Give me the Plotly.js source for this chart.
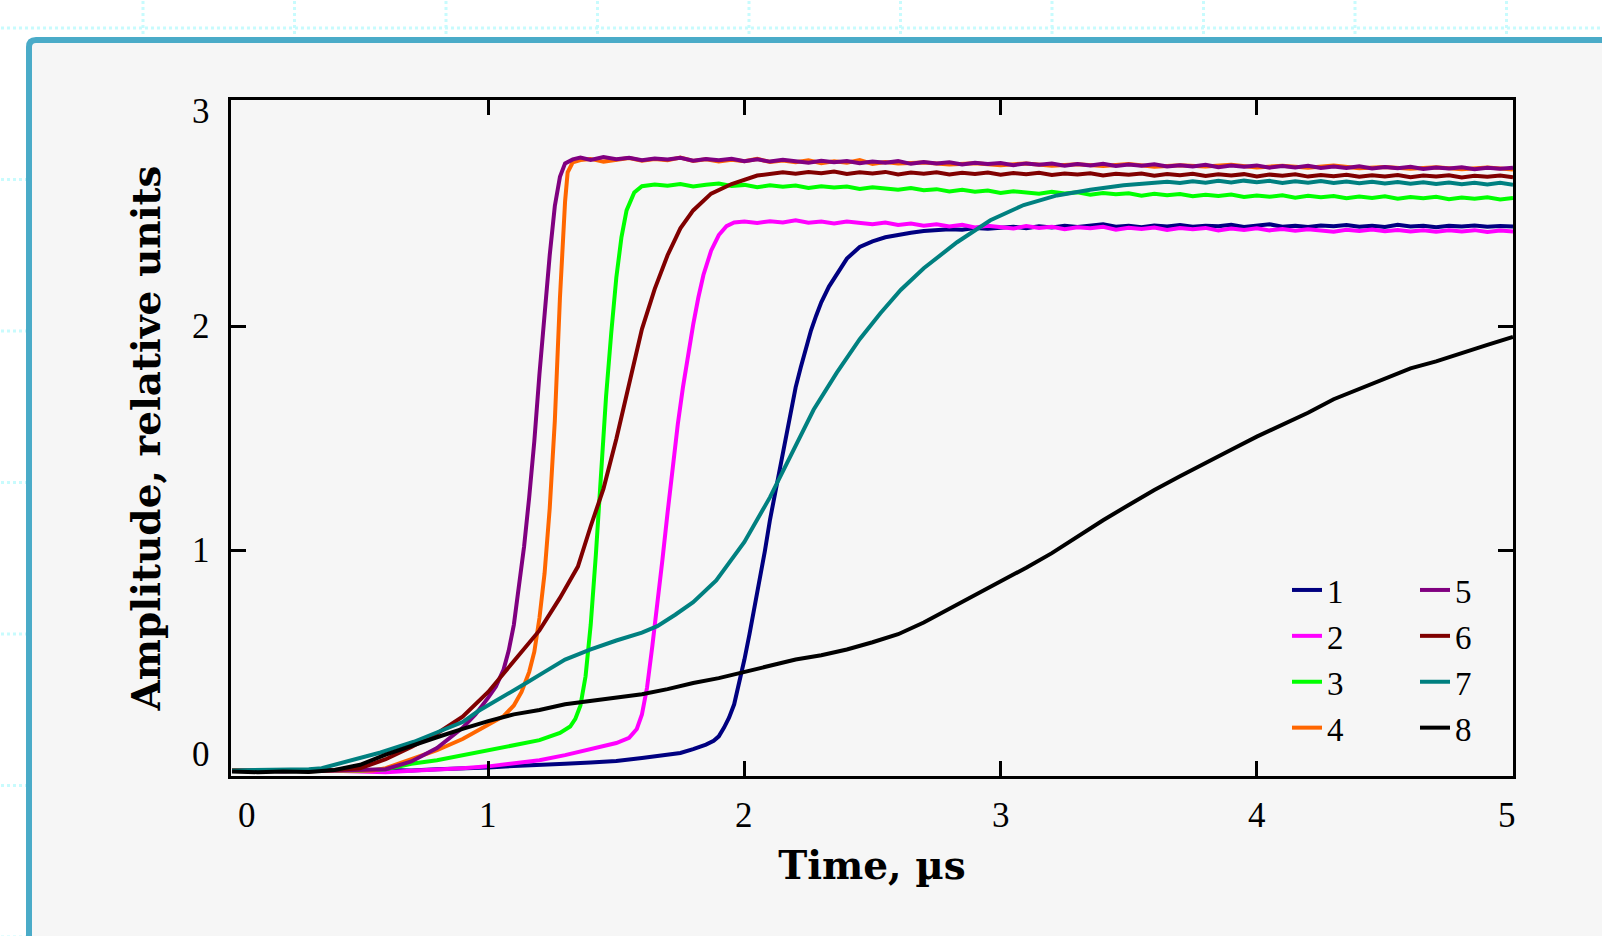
<!DOCTYPE html>
<html>
<head>
<meta charset="utf-8">
<script src="https://cdn.plot.ly/plotly-3.0.1.min.js"></script>
<style>
html,body{margin:0;padding:0;background:#ffffff;overflow:hidden}
#chart{width:1602px;height:936px}
</style>
</head>
<body>
<div id="chart"></div>
<script>
// ---------- data (time in µs, amplitude in relative units) ----------
const seriesNames = ['1','2','3','4','5','6','7','8'];
const seriesColors = ['#000080','#ff00ff','#00ff00','#ff6600','#800080','#800000','#008080','#000000'];

const s1 = [[0,0.020],[0.1,0.015],[0.2,0.022],[0.3,0.018],[0.4,0.020],[0.5,0.017],[0.6,0.022],[0.7,0.020],[0.8,0.025],[0.9,0.027],[1.0,0.033],[1.1,0.040],[1.2,0.043],[1.3,0.050],[1.4,0.055],[1.5,0.062],[1.6,0.075],[1.7,0.088],[1.75,0.098],[1.8,0.115],[1.85,0.135],[1.88,0.152],[1.9,0.172],[1.92,0.210],[1.94,0.255],[1.96,0.315],[1.98,0.410],[2.0,0.515],[2.02,0.630],[2.04,0.750],[2.06,0.865],[2.08,1.000],[2.1,1.140],[2.12,1.260],[2.14,1.375],[2.16,1.500],[2.18,1.625],[2.2,1.730],[2.22,1.820],[2.24,1.905],[2.26,1.985],[2.28,2.050],[2.3,2.110],[2.33,2.180],[2.36,2.235],[2.4,2.305],[2.45,2.357],[2.5,2.382],[2.55,2.400],[2.6,2.412],[2.65,2.420],[2.7,2.428],[2.75,2.432],[2.8,2.436],[2.85,2.434],[2.9,2.441],[2.95,2.438],[3.0,2.443],[3.05,2.447],[3.1,2.441],[3.15,2.449],[3.2,2.444],[3.25,2.452],[3.3,2.446],[3.35,2.450],[3.4,2.458],[3.45,2.447],[3.5,2.451],[3.55,2.445],[3.6,2.453],[3.65,2.448],[3.7,2.455],[3.75,2.447],[3.8,2.452],[3.85,2.449],[3.9,2.456],[3.95,2.446],[4.0,2.451],[4.05,2.458],[4.1,2.447],[4.15,2.452],[4.2,2.446],[4.25,2.453],[4.3,2.449],[4.35,2.455],[4.4,2.447],[4.45,2.451],[4.5,2.446],[4.55,2.456],[4.6,2.448],[4.65,2.452],[4.7,2.445],[4.75,2.451],[4.8,2.448],[4.85,2.453],[4.9,2.447],[4.95,2.450],[5.0,2.448]];

const s2 = [[0,0.018],[0.1,0.020],[0.2,0.016],[0.3,0.020],[0.4,0.018],[0.5,0.014],[0.6,0.012],[0.7,0.018],[0.8,0.022],[0.9,0.030],[1.0,0.038],[1.1,0.050],[1.2,0.065],[1.3,0.088],[1.4,0.115],[1.5,0.142],[1.55,0.165],[1.58,0.205],[1.6,0.270],[1.62,0.390],[1.64,0.570],[1.66,0.755],[1.68,0.960],[1.7,1.170],[1.72,1.380],[1.74,1.565],[1.76,1.730],[1.78,1.880],[1.8,2.010],[1.82,2.130],[1.84,2.232],[1.87,2.340],[1.9,2.410],[1.93,2.450],[1.96,2.466],[2.0,2.470],[2.05,2.464],[2.1,2.472],[2.15,2.466],[2.2,2.476],[2.25,2.465],[2.3,2.470],[2.35,2.462],[2.4,2.471],[2.45,2.464],[2.5,2.458],[2.55,2.466],[2.6,2.455],[2.65,2.462],[2.7,2.452],[2.75,2.458],[2.8,2.448],[2.85,2.456],[2.9,2.444],[2.95,2.452],[3.0,2.446],[3.05,2.439],[3.1,2.450],[3.15,2.442],[3.2,2.447],[3.25,2.436],[3.3,2.445],[3.35,2.440],[3.4,2.447],[3.45,2.434],[3.5,2.443],[3.55,2.437],[3.6,2.444],[3.65,2.433],[3.7,2.441],[3.75,2.436],[3.8,2.442],[3.85,2.430],[3.9,2.439],[3.95,2.433],[4.0,2.440],[4.05,2.431],[4.1,2.437],[4.15,2.429],[4.2,2.436],[4.25,2.431],[4.3,2.425],[4.35,2.434],[4.4,2.428],[4.45,2.435],[4.5,2.427],[4.55,2.433],[4.6,2.426],[4.65,2.432],[4.7,2.425],[4.75,2.431],[4.8,2.426],[4.85,2.432],[4.9,2.424],[4.95,2.430],[5.0,2.426]];

const s3 = [[0,0.020],[0.1,0.018],[0.2,0.022],[0.3,0.019],[0.4,0.021],[0.5,0.018],[0.6,0.025],[0.7,0.050],[0.8,0.065],[0.9,0.088],[1.0,0.110],[1.1,0.132],[1.2,0.155],[1.28,0.187],[1.32,0.216],[1.34,0.250],[1.36,0.310],[1.38,0.440],[1.4,0.670],[1.42,0.980],[1.44,1.340],[1.46,1.690],[1.48,1.970],[1.5,2.220],[1.52,2.400],[1.54,2.520],[1.57,2.600],[1.6,2.628],[1.65,2.636],[1.7,2.630],[1.75,2.638],[1.8,2.627],[1.85,2.635],[1.9,2.640],[1.95,2.629],[2.0,2.634],[2.05,2.624],[2.1,2.632],[2.15,2.626],[2.2,2.631],[2.25,2.620],[2.3,2.628],[2.35,2.622],[2.4,2.627],[2.45,2.616],[2.5,2.623],[2.55,2.618],[2.6,2.612],[2.65,2.620],[2.7,2.610],[2.75,2.615],[2.8,2.605],[2.85,2.612],[2.9,2.603],[2.95,2.609],[3.0,2.598],[3.05,2.606],[3.1,2.600],[3.15,2.594],[3.2,2.603],[3.25,2.596],[3.3,2.601],[3.35,2.590],[3.4,2.598],[3.45,2.592],[3.5,2.597],[3.55,2.586],[3.6,2.594],[3.65,2.588],[3.7,2.593],[3.75,2.583],[3.8,2.590],[3.85,2.585],[3.9,2.591],[3.95,2.580],[4.0,2.587],[4.05,2.581],[4.1,2.588],[4.15,2.577],[4.2,2.585],[4.25,2.579],[4.3,2.584],[4.35,2.574],[4.4,2.582],[4.45,2.576],[4.5,2.583],[4.55,2.572],[4.6,2.580],[4.65,2.574],[4.7,2.581],[4.75,2.570],[4.8,2.578],[4.85,2.572],[4.9,2.579],[4.95,2.569],[5.0,2.576]];

const s4 = [[0,0.022],[0.1,0.018],[0.2,0.020],[0.3,0.016],[0.4,0.020],[0.5,0.018],[0.55,0.020],[0.6,0.030],[0.7,0.068],[0.8,0.110],[0.9,0.160],[1.0,0.226],[1.06,0.262],[1.1,0.310],[1.13,0.370],[1.16,0.460],[1.18,0.550],[1.2,0.700],[1.22,0.900],[1.24,1.190],[1.26,1.580],[1.28,2.130],[1.29,2.380],[1.3,2.560],[1.31,2.690],[1.33,2.735],[1.36,2.745],[1.4,2.750],[1.45,2.738],[1.5,2.746],[1.55,2.754],[1.6,2.742],[1.65,2.750],[1.7,2.744],[1.75,2.756],[1.8,2.741],[1.85,2.748],[1.9,2.738],[1.95,2.746],[2.0,2.740],[2.05,2.750],[2.1,2.736],[2.15,2.743],[2.2,2.735],[2.25,2.744],[2.3,2.731],[2.35,2.739],[2.4,2.733],[2.45,2.745],[2.5,2.728],[2.55,2.736],[2.6,2.730],[2.7,2.734],[2.8,2.725],[2.9,2.731],[3.0,2.722],[3.1,2.730],[3.2,2.720],[3.3,2.726],[3.4,2.718],[3.5,2.727],[3.6,2.715],[3.7,2.722],[3.8,2.716],[3.9,2.724],[4.0,2.712],[4.1,2.719],[4.2,2.711],[4.3,2.720],[4.4,2.708],[4.5,2.714],[4.6,2.706],[4.7,2.713],[4.8,2.704],[4.9,2.712],[5.0,2.703]];

const s5 = [[0,0.018],[0.1,0.020],[0.2,0.017],[0.3,0.021],[0.4,0.019],[0.5,0.020],[0.6,0.025],[0.7,0.060],[0.8,0.120],[0.9,0.210],[0.95,0.270],[1.0,0.345],[1.03,0.395],[1.06,0.470],[1.08,0.555],[1.1,0.670],[1.12,0.830],[1.14,1.020],[1.16,1.240],[1.18,1.490],[1.2,1.790],[1.22,2.070],[1.24,2.320],[1.26,2.540],[1.28,2.670],[1.3,2.730],[1.33,2.748],[1.36,2.756],[1.4,2.745],[1.45,2.758],[1.5,2.749],[1.55,2.755],[1.6,2.744],[1.65,2.752],[1.7,2.747],[1.75,2.755],[1.8,2.742],[1.85,2.750],[1.9,2.744],[1.95,2.751],[2.0,2.740],[2.05,2.748],[2.1,2.738],[2.15,2.746],[2.2,2.740],[2.25,2.733],[2.3,2.742],[2.35,2.735],[2.4,2.741],[2.45,2.731],[2.5,2.738],[2.55,2.733],[2.6,2.740],[2.65,2.728],[2.7,2.736],[2.75,2.730],[2.8,2.735],[2.85,2.725],[2.9,2.733],[2.95,2.727],[3.0,2.732],[3.05,2.722],[3.1,2.730],[3.15,2.724],[3.2,2.729],[3.25,2.720],[3.3,2.727],[3.35,2.721],[3.4,2.728],[3.45,2.718],[3.5,2.725],[3.55,2.719],[3.6,2.726],[3.65,2.716],[3.7,2.722],[3.75,2.716],[3.8,2.724],[3.85,2.713],[3.9,2.720],[3.95,2.715],[4.0,2.721],[4.05,2.711],[4.1,2.718],[4.15,2.712],[4.2,2.719],[4.25,2.709],[4.3,2.716],[4.35,2.710],[4.4,2.717],[4.45,2.707],[4.5,2.714],[4.55,2.708],[4.6,2.715],[4.65,2.705],[4.7,2.712],[4.75,2.707],[4.8,2.713],[4.85,2.704],[4.9,2.711],[4.95,2.706],[5.0,2.710]];

const s6 = [[0,0.020],[0.1,0.017],[0.2,0.020],[0.3,0.018],[0.4,0.022],[0.5,0.030],[0.6,0.070],[0.7,0.125],[0.8,0.185],[0.9,0.260],[1.0,0.370],[1.1,0.510],[1.2,0.645],[1.28,0.790],[1.35,0.930],[1.4,1.110],[1.45,1.278],[1.5,1.500],[1.55,1.745],[1.6,1.990],[1.65,2.170],[1.7,2.320],[1.75,2.440],[1.8,2.520],[1.87,2.595],[1.95,2.638],[2.05,2.676],[2.1,2.682],[2.15,2.690],[2.2,2.684],[2.25,2.692],[2.3,2.686],[2.35,2.694],[2.4,2.683],[2.45,2.690],[2.5,2.685],[2.55,2.692],[2.6,2.681],[2.65,2.689],[2.7,2.684],[2.75,2.690],[2.8,2.680],[2.85,2.688],[2.9,2.683],[2.95,2.689],[3.0,2.679],[3.05,2.687],[3.1,2.681],[3.15,2.688],[3.2,2.678],[3.25,2.685],[3.3,2.680],[3.35,2.686],[3.4,2.676],[3.45,2.684],[3.5,2.679],[3.55,2.685],[3.6,2.675],[3.65,2.683],[3.7,2.677],[3.75,2.684],[3.8,2.674],[3.85,2.681],[3.9,2.676],[3.95,2.682],[4.0,2.672],[4.05,2.680],[4.1,2.675],[4.15,2.681],[4.2,2.671],[4.25,2.678],[4.3,2.673],[4.35,2.679],[4.4,2.670],[4.45,2.677],[4.5,2.672],[4.55,2.678],[4.6,2.668],[4.65,2.676],[4.7,2.671],[4.75,2.677],[4.8,2.667],[4.85,2.675],[4.9,2.670],[4.95,2.676],[5.0,2.668]];

const s7 = [[0,0.020],[0.1,0.022],[0.2,0.020],[0.3,0.025],[0.35,0.030],[0.45,0.060],[0.58,0.100],[0.71,0.148],[0.84,0.206],[0.9,0.236],[0.96,0.284],[1.02,0.323],[1.09,0.372],[1.15,0.411],[1.22,0.460],[1.3,0.515],[1.4,0.560],[1.5,0.600],[1.6,0.635],[1.66,0.664],[1.73,0.715],[1.8,0.771],[1.89,0.868],[2.0,1.040],[2.1,1.240],[2.19,1.450],[2.27,1.630],[2.36,1.795],[2.45,1.945],[2.53,2.060],[2.61,2.165],[2.7,2.262],[2.83,2.378],[2.96,2.476],[3.09,2.544],[3.22,2.587],[3.35,2.612],[3.48,2.632],[3.61,2.641],[3.65,2.648],[3.7,2.642],[3.75,2.650],[3.8,2.644],[3.85,2.652],[3.9,2.645],[3.95,2.653],[4.0,2.646],[4.05,2.652],[4.1,2.643],[4.15,2.650],[4.2,2.644],[4.25,2.651],[4.3,2.642],[4.35,2.649],[4.4,2.641],[4.45,2.648],[4.5,2.640],[4.55,2.647],[4.6,2.639],[4.65,2.646],[4.7,2.638],[4.75,2.645],[4.8,2.637],[4.85,2.644],[4.9,2.636],[4.95,2.643],[5.0,2.635]];

const s8 = [[0,0.015],[0.1,0.012],[0.2,0.015],[0.3,0.013],[0.4,0.022],[0.5,0.045],[0.6,0.090],[0.7,0.130],[0.8,0.168],[0.9,0.205],[1.0,0.240],[1.1,0.270],[1.2,0.290],[1.3,0.315],[1.4,0.330],[1.5,0.345],[1.6,0.360],[1.7,0.383],[1.8,0.410],[1.9,0.432],[2.0,0.460],[2.1,0.486],[2.2,0.515],[2.3,0.534],[2.4,0.560],[2.5,0.592],[2.6,0.628],[2.7,0.680],[2.8,0.740],[2.9,0.800],[3.0,0.860],[3.1,0.925],[3.2,0.990],[3.3,1.065],[3.4,1.137],[3.5,1.205],[3.6,1.272],[3.7,1.333],[3.8,1.390],[3.9,1.452],[4.0,1.510],[4.1,1.565],[4.2,1.617],[4.3,1.677],[4.4,1.722],[4.5,1.770],[4.6,1.815],[4.7,1.846],[4.8,1.884],[4.9,1.920],[5.0,1.955]];

const seriesData = [s1,s2,s3,s4,s5,s6,s7,s8];

const xTickVals = [0,1,2,3,4,5];
const xTickText = ['0','1','2','3','4','5'];
const yTickVals = [0,1,2,3];
const yTickText = ['0','1','2','3'];
const xTitle = 'Time, µs';
const yTitle = 'Amplitude, relative units';

// ---------- geometry ----------
const W = 1602, H = 936, ML = 231, MR = 89, MT = 100, MB = 160;
const PW = W - ML - MR, PH = H - MT - MB;
const px2x = p => (p - ML) / PW;
const py2y = p => (H - MB - p) / PH;

const tickFont = {family: 'Liberation Serif, serif', size: 35, color: '#000'};
const titleFont = {family: 'DejaVu Serif, serif', size: 39, color: '#000', weight: 'bold'};

// ---------- traces ----------
const traces = seriesData.map((s, i) => ({
  type: 'scatter',
  mode: 'lines',
  name: seriesNames[i],
  x: s.map(p => p[0]),
  y: s.map(p => p[1]),
  line: {color: seriesColors[i], width: 4},
  legend: i < 4 ? 'legend' : 'legend2',
  hoverinfo: 'skip'
}));

// ---------- decorative background: dotted page grid + card ----------
const shapes = [];
const gridColor = '#c8fbfd';
for (let k = 0; k < 10; k++) {
  const gx = 143 + 151.5 * k;
  shapes.push({type: 'line', xref: 'paper', yref: 'paper', layer: 'below',
    x0: px2x(gx), x1: px2x(gx), y0: py2y(-5), y1: py2y(H + 5),
    line: {color: gridColor, width: 3, dash: 'dot'}});
}
for (let k = 0; k < 7; k++) {
  const gy = 28 + 151.5 * k;
  shapes.push({type: 'line', xref: 'paper', yref: 'paper', layer: 'below',
    x0: px2x(-5), x1: px2x(W + 5), y0: py2y(gy), y1: py2y(gy),
    line: {color: gridColor, width: 3, dash: 'dot'}});
}
const cl = 29, ct = 40, r = 7;
const cardPath = 'M' + px2x(cl) + ',' + py2y(H + 40) +
  ' L' + px2x(cl) + ',' + py2y(ct + r) +
  ' Q' + px2x(cl) + ',' + py2y(ct) + ' ' + px2x(cl + r) + ',' + py2y(ct) +
  ' L' + px2x(W + 40) + ',' + py2y(ct) +
  ' L' + px2x(W + 40) + ',' + py2y(H + 40) + ' Z';
shapes.push({type: 'path', xref: 'paper', yref: 'paper', layer: 'below',
  path: cardPath, fillcolor: '#f6f6f6', line: {color: '#4aabc8', width: 6}});

// ---------- tick labels (edge labels nudged inward like the original) ----------
const annotations = [];
xTickVals.forEach((v, i) => {
  let xs = 0;
  if (i === 0) xs = 15;
  if (i === xTickVals.length - 1) xs = -6;
  annotations.push({xref: 'x', yref: 'paper', x: v, y: 0, text: xTickText[i],
    showarrow: false, xanchor: 'center', yanchor: 'middle', xshift: xs, yshift: -39, font: tickFont});
});
yTickVals.forEach((v, i) => {
  let ys = 0;
  if (i === 0) ys = 20;
  if (i === yTickVals.length - 1) ys = -9;
  annotations.push({xref: 'paper', yref: 'y', x: 0, y: v, text: yTickText[i],
    showarrow: false, xanchor: 'right', yanchor: 'middle', xshift: -19, yshift: ys, font: tickFont});
});

const axisCommon = {
  showline: true, linecolor: '#000', linewidth: 3, mirror: 'ticks',
  ticks: 'inside', ticklen: 15, tickwidth: 3, tickcolor: '#000',
  showgrid: false, zeroline: false, showticklabels: false, fixedrange: true
};

const legendCommon = {
  xanchor: 'left', yanchor: 'top', bgcolor: 'rgba(0,0,0,0)', borderwidth: 0,
  font: {family: 'Liberation Serif, serif', size: 33, color: '#000'}, tracegroupgap: 0,
  orientation: 'v'
};

const layout = {
  width: W, height: H,
  margin: {l: ML, r: MR, t: MT, b: MB, pad: 0},
  paper_bgcolor: '#ffffff',
  plot_bgcolor: '#f6f6f6',
  showlegend: true,
  xaxis: Object.assign({}, axisCommon, {
    range: [-0.004, 5.0], tickvals: [1, 2, 3, 4],
    title: {text: xTitle, font: titleFont, standoff: 74}
  }),
  yaxis: Object.assign({}, axisCommon, {
    range: [-0.005, 3.013], tickvals: [1, 2],
    title: {text: yTitle, font: titleFont, standoff: 56}
  }),
  legend: Object.assign({}, legendCommon, {x: px2x(1287), y: py2y(562)}),
  legend2: Object.assign({}, legendCommon, {x: px2x(1415), y: py2y(562)}),
  shapes: shapes,
  annotations: annotations
};

Plotly.newPlot('chart', traces, layout, {displayModeBar: false, staticPlot: true});
</script>
</body>
</html>
